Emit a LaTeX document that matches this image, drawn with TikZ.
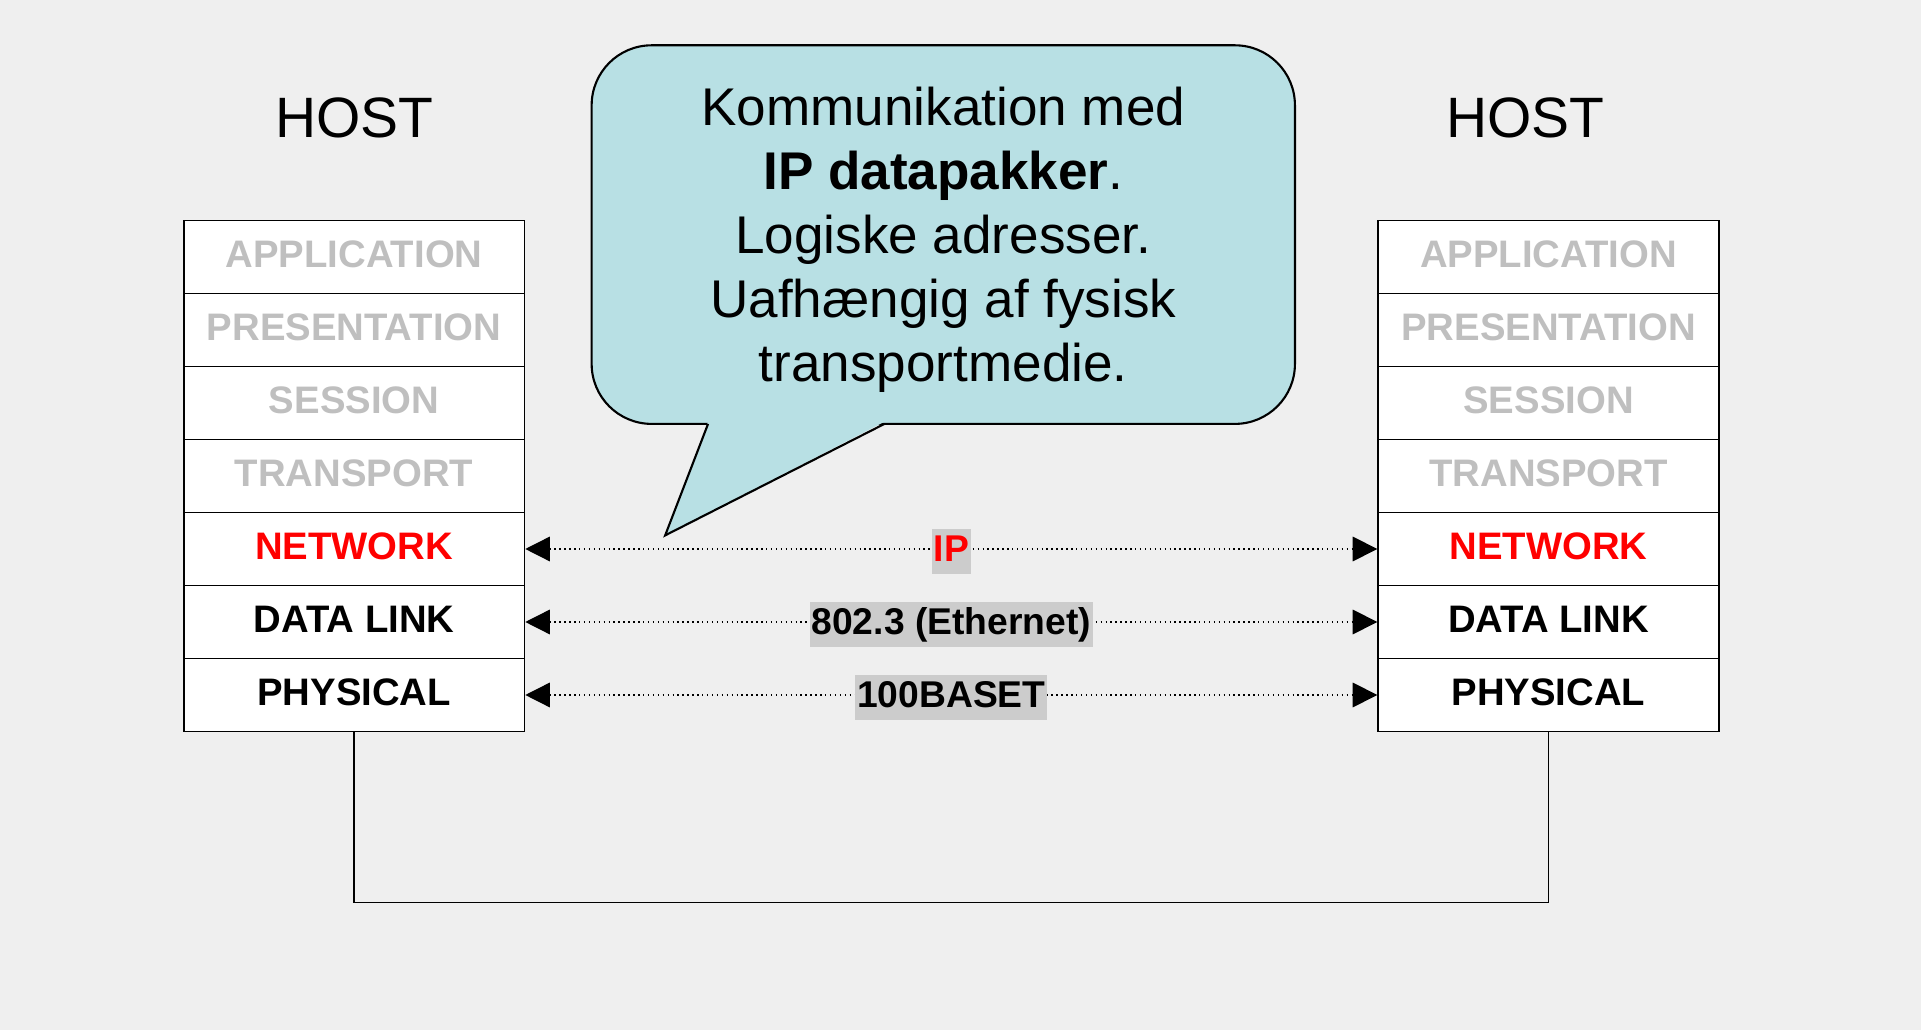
\documentclass[tikz,border=0pt]{standalone}
\usepackage{fontspec}
\setmainfont{Liberation Sans}
\usetikzlibrary{arrows.meta,positioning}
\definecolor{notecyan}{RGB}{184,224,228}
\definecolor{slidebg}{RGB}{239,239,239}
\tikzset{%
  >={Triangle[width=7pt,length=7pt]},
            base/.style = {rectangle, draw=black, line width=0.5pt, fill=white,
                           minimum width=3.406cm, minimum height=0.73cm,
                           inner sep=0pt, text centered, text depth=1.4pt,
                           font=\fontsize{10.9}{12}\selectfont\bfseries},
  layer0/.style = {base, text=gray!50},
  layer1/.style = {base, text=red},
  layer2/.style = {base, text=black},
    host/.style = {inner sep=0pt, font=\fontsize{16.2}{20}\selectfont},
  bubble/.style = {rectangle, rounded corners=0.6cm, draw=black, line width=0.6pt,
                   fill=notecyan, outer sep=0pt, minimum width=7.033cm,
                   minimum height=3.786cm},
   btext/.style = {inner sep=0pt, align=center,
                   font=\fontsize{15.1}{18.2}\selectfont},
    link/.style = {<->, densely dotted, line width=0.4pt},
     tag/.style = {fill=gray!40, inner xsep=0.5pt, inner ysep=1.2pt,
                   text height=8.2pt, text depth=2.2pt, yshift=-0.6pt,
                   font=\fontsize{10.6}{12}\selectfont\bfseries},
    wire/.style = {line width=0.4pt},
}
\begin{document}
\begin{tikzpicture}[node distance=0.73cm]

  \useasboundingbox (0,0) rectangle (19.21,10.30);
  \fill[slidebg] (0,0) rectangle (19.21,10.30);

  % left host
  \node (aAPP)  [layer0] at (3.541,7.730)  {APPLICATION};
  \node (aPRES) [layer0, below of=aAPP ]   {PRESENTATION};
  \node (aSES)  [layer0, below of=aPRES]   {SESSION};
  \node (aTRA)  [layer0, below of=aSES ]   {TRANSPORT};
  \node (aNET)  [layer1, below of=aTRA ]   {NETWORK};
  \node (aDL)   [layer2, below of=aNET ]   {DATA LINK};
  \node (aPHY)  [layer2, below of=aDL  ]   {PHYSICAL};
  \node (hostA) [host,   above of=aAPP, node distance=1.39cm] {HOST};

  % right host
  \node (bAPP)  [layer0] at (15.485,7.730) {APPLICATION};
  \node (bPRES) [layer0, below of=bAPP ]   {PRESENTATION};
  \node (bSES)  [layer0, below of=bPRES]   {SESSION};
  \node (bTRA)  [layer0, below of=bSES ]   {TRANSPORT};
  \node (bNET)  [layer1, below of=bTRA ]   {NETWORK};
  \node (bDL)   [layer2, below of=bNET ]   {DATA LINK};
  \node (bPHY)  [layer2, below of=bDL  ]   {PHYSICAL};
  \node (hostB) [host,   above of=bAPP, node distance=1.39cm, xshift=-0.23cm] {HOST};

  % speech bubble
  \node (msg) [bubble] at (9.433,7.954) {};
  \coordinate (tailL)   at ([xshift=1.164cm]msg.south west);
  \coordinate (tailR)   at ([xshift=2.928cm]msg.south west);
  \coordinate (tailTip) at ([xshift=0.735cm, yshift=-1.115cm]msg.south west);
  \fill[notecyan] ([yshift=0.6pt]tailL) -- (tailTip) -- ([yshift=0.6pt]tailR) -- cycle;
  \draw[line width=0.6pt] (tailL) -- (tailTip) -- (tailR);
  \node (msgText) [btext] at ([yshift=-0.05cm]msg.center) {Kommunikation med\\
    \textbf{IP datapakker}.\\ Logiske adresser.\\ Uafhængig af fysisk\\ transportmedie.};

  \draw[link] (aNET) -- node[tag, text=red] {IP}               (bNET);
  \draw[link] (aDL)  -- node[tag]           {802.3 (Ethernet)} (bDL);
  \draw[link] (aPHY) -- node[tag]           {100BASET}         (bPHY);

  \coordinate (busL) at ([yshift=-1.703cm]aPHY.south);
  \draw[wire] (aPHY) -- (busL) -| (bPHY);
\end{tikzpicture}
\end{document}
